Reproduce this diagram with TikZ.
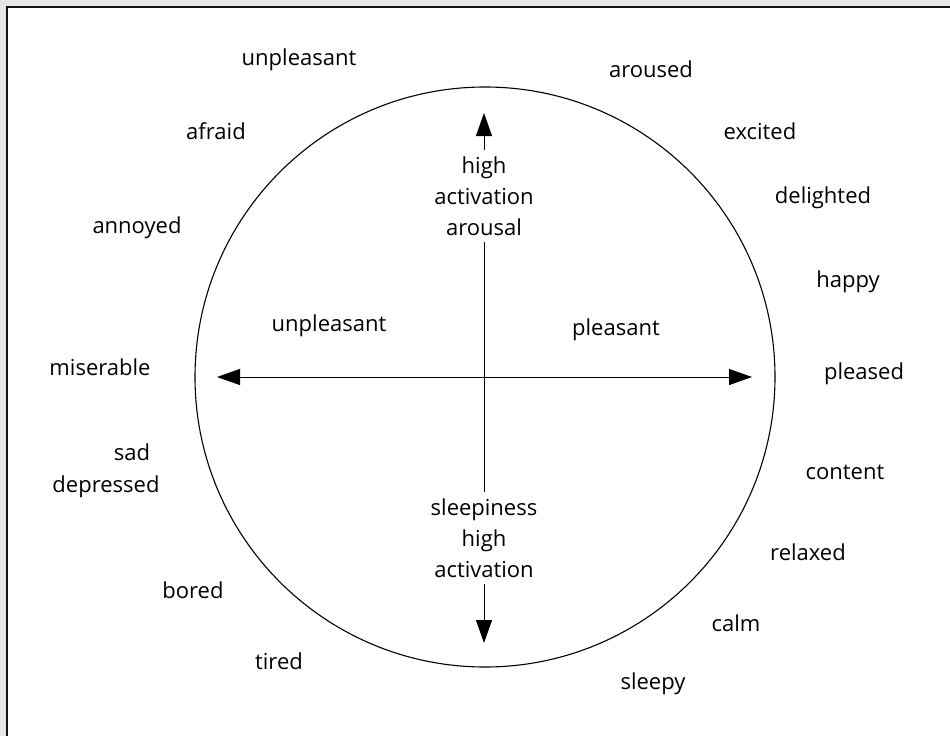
\documentclass[tikz,border=0pt]{standalone}
\usepackage{fontspec}
\setmainfont{Open Sans}
\usetikzlibrary{arrows.meta}

\begin{document}
\begin{tikzpicture}[x=1pt,y=-1pt,
    mood/.style={font=\fontsize{22}{31}\selectfont},
    axisText/.style={font=\fontsize{22}{31}\selectfont, align=center, inner sep=6pt},
    axisArrow/.style={line width=1pt, -{Triangle[length=23pt,width=16pt]}}]
    \definecolor{frameColour}{HTML}{111111}
    \definecolor{shadeColour}{HTML}{E6E6E6}

    \def\radius{290}

    % Background and frame
    \useasboundingbox (0,0) rectangle (950,736);
    \fill[shadeColour] (0,0) rectangle (950,736);
    \fill[white] (7,7) rectangle (950,736);
    \draw[frameColour, line width=2.2pt] (7,736) -- (7,7) -- (950,7);

    % Circle
    \coordinate (C) at (485,377);
    \draw[line width=1.1pt] (C) circle (\radius);

    % Horizontal axis
    \coordinate (W) at (217,377);
    \coordinate (E) at (752,377);
    \draw[axisArrow] (C) -- (W);
    \draw[axisArrow] (C) -- (E);

    % Vertical axis
    \node[axisText] (up) at (484,196) {high\\activation\\arousal};
    \node[axisText] (down) at (484,538) {sleepiness\\high\\activation};
    \coordinate (N) at (484,113);
    \coordinate (S) at (484,643);
    \draw[axisArrow] (up.north) -- (N);
    \draw[line width=1pt] (up.south) -- (down.north);
    \draw[axisArrow] (down.south) -- (S);

    % Quadrant labels
    \node[mood] (innerUnpleasant) at (329,326) {unpleasant};
    \node[mood] (innerPleasant) at (616,330) {pleasant};

    % Moods round the circle
    \node[mood] (unpleasant) at (299,60) {unpleasant};
    \node[mood] (aroused) at (651,69) {aroused};
    \node[mood] (afraid) at (216,131) {afraid};
    \node[mood] (excited) at (760,131) {excited};
    \node[mood] (delighted) at (823,198) {delighted};
    \node[mood] (annoyed) at (137,228) {annoyed};
    \node[mood] (happy) at (848,282) {happy};
    \node[mood] (miserable) at (100,367) {miserable};
    \node[mood] (pleased) at (864,374) {pleased};
    \node[mood] (sad) at (132,452) {sad};
    \node[mood] (content) at (845,472) {content};
    \node[mood] (depressed) at (106,487) {depressed};
    \node[mood] (relaxed) at (808,552) {relaxed};
    \node[mood] (bored) at (193,590) {bored};
    \node[mood] (calm) at (736,623) {calm};
    \node[mood] (tired) at (279,661) {tired};
    \node[mood] (sleepy) at (653,684) {sleepy};

\end{tikzpicture}
\end{document}
